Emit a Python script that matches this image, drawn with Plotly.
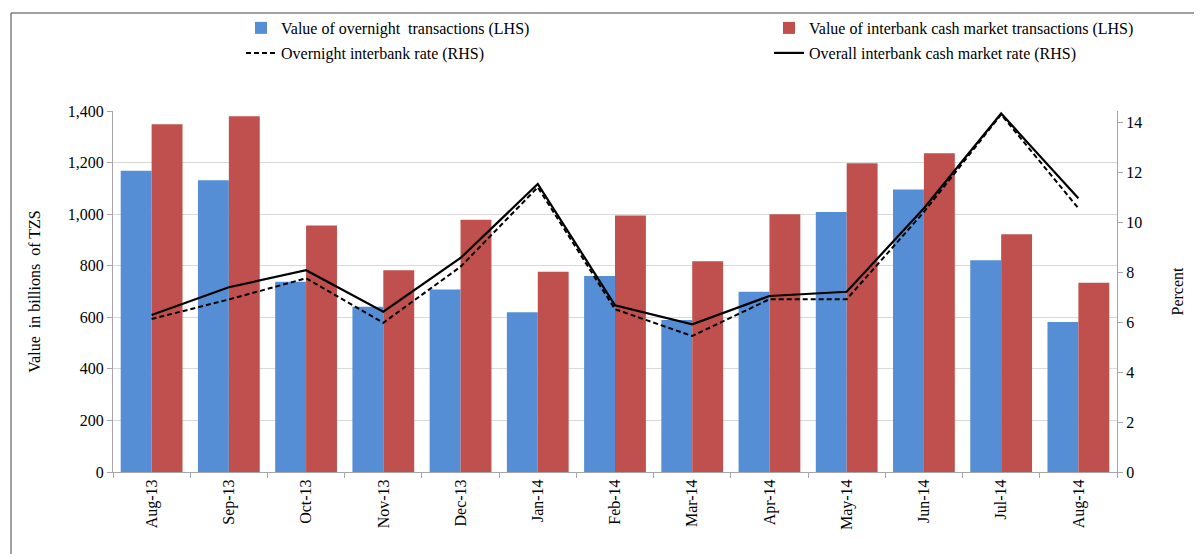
import plotly.graph_objects as go

months = ["Aug-13", "Sep-13", "Oct-13", "Nov-13", "Dec-13", "Jan-14", "Feb-14",
          "Mar-14", "Apr-14", "May-14", "Jun-14", "Jul-14", "Aug-14"]
overnight_value = [1168, 1131, 738, 641, 708, 620, 760, 589, 699, 1008, 1096, 821, 582]
interbank_value = [1349, 1380, 956, 782, 978, 777, 995, 817, 1000, 1197, 1236, 922, 734]
overnight_rate = [6.12, 6.90, 7.75, 5.97, 8.21, 11.39, 6.51, 5.44, 6.91, 6.91, 10.40, 14.30, 10.55]
overall_rate = [6.28, 7.39, 8.07, 6.41, 8.56, 11.52, 6.67, 5.91, 7.04, 7.21, 10.55, 14.34, 10.95]

left_ticks = [0, 200, 400, 600, 800, 1000, 1200, 1400]
right_ticks = [0, 2, 4, 6, 8, 10, 12, 14]

FONT = "Liberation Serif, Times New Roman, serif"
FS = 16

W, H = 1202, 554
OFF = 8  # page body margin
L, R, T, B = 113 - OFF, 1117 - OFF, 111 - OFF, 472 - OFF

fig = go.Figure()
fig.add_trace(go.Bar(x=months, y=overnight_value, name="Value of overnight  transactions (LHS)",
                     marker=dict(color="#558ED5", line=dict(width=0)), legend="legend2",
                     showlegend=True))
fig.add_trace(go.Bar(x=months, y=interbank_value, name="Value of interbank cash market transactions (LHS)",
                     marker=dict(color="#C0504D", line=dict(width=0)), legend="legend3",
                     showlegend=True))
fig.add_trace(go.Scatter(x=months, y=overnight_rate, name="Overnight interbank rate (RHS)", mode="lines",
                         line=dict(color="black", width=2, dash="5px,3px"), yaxis="y2", legend="legend4",
                         showlegend=True))
fig.add_trace(go.Scatter(x=months, y=overall_rate, name="Overall interbank cash market rate (RHS)", mode="lines",
                         line=dict(color="black", width=2.2), yaxis="y2", legend="legend5",
                         showlegend=True))

def px_x(px):
    return (px - OFF - L) / (R - L)

def px_y(py):
    return (B - (py - OFF)) / (B - T)

shapes = [
    dict(type="line", xref="paper", yref="paper", x0=px_x(11), x1=px_x(1220), y0=px_y(13), y1=px_y(13),
         line=dict(color="#808080", width=1.5)),
    dict(type="line", xref="paper", yref="paper", x0=px_x(11), x1=px_x(11), y0=px_y(13), y1=px_y(570),
         line=dict(color="#808080", width=1.5)),
]

def make_legend(text_x_page, row_y_page):
    return dict(orientation="h", xref="container", yref="container",
                x=(text_x_page - 40 - OFF) / W, y=1 - (row_y_page - OFF) / H,
                xanchor="left", yanchor="middle",
                font=dict(family=FONT, size=FS), bgcolor="rgba(0,0,0,0)", itemclick=False)

fig.update_layout(
    width=W, height=H,
    showlegend=True,
    margin=dict(l=L, r=W - R, t=T, b=H - B, pad=0, autoexpand=False),
    paper_bgcolor="white", plot_bgcolor="white",
    font=dict(family=FONT, size=FS, color="black"),
    barmode="group", bargap=0.2, bargroupgap=0,
    shapes=shapes,
    legend2=make_legend(281, 28),
    legend3=make_legend(809, 28),
    legend4=make_legend(281, 53),
    legend5=make_legend(809, 53),
    xaxis=dict(type="category", tickangle=-90, ticks="outside", ticklen=5, tickcolor="#A6A6A6",
               tickson="boundaries", showline=True, linecolor="#A6A6A6", linewidth=1,
               showgrid=False, tickfont=dict(family=FONT, size=FS)),
    yaxis=dict(range=[0, 1400], tickvals=left_ticks, tickformat=",", ticks="outside", ticklen=5,
               tickcolor="#A6A6A6", showline=True, linecolor="#A6A6A6", linewidth=1,
               showgrid=True, gridcolor="#D9D9D9", gridwidth=1, zeroline=False,
               title=dict(text="Value  in billions  of TZS", font=dict(family=FONT, size=FS), standoff=23),
               tickfont=dict(family=FONT, size=FS)),
    yaxis2=dict(range=[0, 14.44], tickvals=right_ticks, overlaying="y", side="right",
                ticks="outside", ticklen=5, tickcolor="#A6A6A6", showline=True, linecolor="#A6A6A6",
                linewidth=1, showgrid=False, zeroline=False,
                title=dict(text="Percent", font=dict(family=FONT, size=FS), standoff=30),
                tickfont=dict(family=FONT, size=FS)),
)

fig.write_html("out.html")
